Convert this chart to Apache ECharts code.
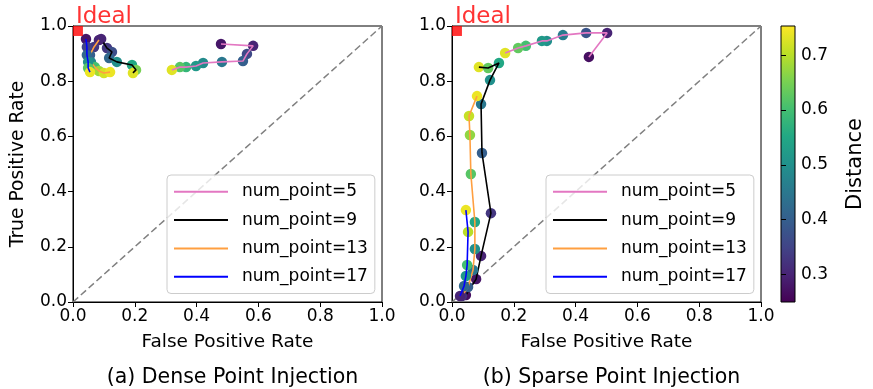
<!DOCTYPE html>
<html><head><meta charset="utf-8">
<script src="https://cdn.jsdelivr.net/npm/echarts@6/dist/echarts.min.js"></script>
<style>html,body{margin:0;padding:0;background:#fff}#c{width:873px;height:389px}</style>
</head><body><div id="c"></div>
<script>
// ---- data: each point is [FPR, TPR, Distance] ----
const numPoints = [5, 9, 13, 17];
const lineColors = ['#e377c2', '#000000', '#ff9f40', '#0000ff'];
const denseP5  = [[0.479,0.935,0.28],[0.583,0.928,0.30],[0.563,0.899,0.36],[0.550,0.873,0.40],[0.482,0.870,0.45],[0.421,0.866,0.49],[0.398,0.855,0.52],[0.366,0.851,0.58],[0.346,0.851,0.62],[0.320,0.841,0.73]];
const denseP9  = [[0.091,0.953,0.30],[0.110,0.920,0.33],[0.126,0.906,0.37],[0.117,0.884,0.42],[0.142,0.870,0.50],[0.191,0.859,0.55],[0.204,0.841,0.65],[0.194,0.830,0.73]];
const denseP13 = [[0.084,0.949,0.30],[0.068,0.924,0.33],[0.055,0.895,0.40],[0.058,0.870,0.48],[0.071,0.851,0.60],[0.084,0.837,0.68],[0.100,0.830,0.72],[0.120,0.833,0.74]];
const denseP17 = [[0.042,0.953,0.28],[0.045,0.924,0.35],[0.045,0.895,0.42],[0.049,0.870,0.50],[0.049,0.848,0.62],[0.055,0.833,0.74]];
const sparseP5  = [[0.443,0.888,0.27],[0.502,0.975,0.30],[0.434,0.975,0.38],[0.359,0.967,0.46],[0.307,0.946,0.50],[0.291,0.946,0.52],[0.239,0.928,0.60],[0.214,0.920,0.63],[0.172,0.902,0.73]];
const sparseP9  = [[0.087,0.851,0.73],[0.117,0.848,0.63],[0.152,0.866,0.55],[0.123,0.804,0.50],[0.094,0.717,0.45],[0.097,0.540,0.40],[0.126,0.322,0.33],[0.094,0.167,0.30],[0.078,0.083,0.28],[0.045,0.025,0.27]];
const sparseP13 = [[0.081,0.746,0.74],[0.055,0.674,0.71],[0.058,0.605,0.67],[0.061,0.464,0.62],[0.074,0.290,0.55],[0.074,0.192,0.50],[0.068,0.116,0.45],[0.052,0.054,0.40],[0.032,0.022,0.32]];
const sparseP17 = [[0.045,0.333,0.74],[0.052,0.254,0.70],[0.049,0.134,0.60],[0.045,0.094,0.52],[0.039,0.058,0.42],[0.026,0.022,0.30]];
const diagonal = [[0,0],[1,1]];
const idealPoint = [[0.016,0.982]];
const cbTicks = [0.3, 0.4, 0.5, 0.6, 0.7];
const cbMin = 0.25, cbMax = 0.753;
const panelTitles = ['(a) Dense Point Injection', '(b) Sparse Point Injection'];
const viridis = ['#440154','#482475','#414487','#355f8d','#2a788e','#21918c','#22a884','#44bf70','#7ad151','#bddf26','#fde725'];

const FONT = 'DejaVu Sans';
const panels = [[denseP5, denseP9, denseP13, denseP17], [sparseP5, sparseP9, sparseP13, sparseP17]];
const gridLefts = [73, 452];
const W = 309, TOP = 26, H = 276;

const grids = [], xAxes = [], yAxes = [], series = [], scatterIdx = [], legends = [], titles = [];
gridLefts.forEach((gl, p) => {
  grids.push({left: gl, top: TOP, width: W, height: H, show: true, borderColor: '#000', borderWidth: 1, backgroundColor: '#fff'});
  xAxes.push({gridIndex: p, type: 'value', min: 0, max: 1, interval: 0.2,
    name: 'False Positive Rate', nameLocation: 'middle', nameGap: 31,
    nameTextStyle: {fontFamily: FONT, fontSize: 18.5, color: '#000'},
    axisLine: {show: true, lineStyle: {color: '#000', width: 1}},
    axisTick: {show: true, inside: false, length: 5, lineStyle: {color: '#000'}},
    axisLabel: {fontFamily: FONT, fontSize: 17, color: '#000', margin: 6, formatter: v => v.toFixed(1)},
    splitLine: {show: false}});
  yAxes.push({gridIndex: p, type: 'value', min: 0, max: 1, interval: 0.2,
    name: p === 0 ? 'True Positive Rate' : '', nameLocation: 'middle', nameGap: 45,
    nameTextStyle: {fontFamily: FONT, fontSize: 18.7, color: '#000'},
    axisLine: {show: true, lineStyle: {color: '#000', width: 1}},
    axisTick: {show: true, inside: false, length: 5, lineStyle: {color: '#000'}},
    axisLabel: {fontFamily: FONT, fontSize: 17, color: '#000', margin: 6, formatter: v => v.toFixed(1)},
    splitLine: {show: false}});
  series.push({type: 'line', xAxisIndex: p, yAxisIndex: p, data: diagonal, showSymbol: false, silent: true,
    lineStyle: {color: '#808080', width: 1.5, type: [7, 3.5]}, z: 2});
  panels[p].forEach((arr, k) => {
    scatterIdx.push(series.length);
    series.push({type: 'scatter', xAxisIndex: p, yAxisIndex: p, data: arr, symbolSize: 10.5,
      itemStyle: {opacity: 1}, z: 3 + k * 2});
    series.push({type: 'line', name: 'num_point=' + numPoints[k], xAxisIndex: p, yAxisIndex: p,
      data: arr.map(d => [d[0], d[1]]), showSymbol: false, color: lineColors[k],
      lineStyle: {color: lineColors[k], width: 1.6}, z: 4 + k * 2});
  });
  series.push({type: 'scatter', xAxisIndex: p, yAxisIndex: p, data: idealPoint, symbol: 'rect', symbolSize: 10,
    itemStyle: {color: '#ff0000'}, z: 20,
    label: {show: true, formatter: 'Ideal', color: '#ff0000', fontFamily: FONT, fontSize: 23,
      position: [3, -8.5], align: 'left', verticalAlign: 'middle'}});
  legends.push({left: gl + 94, top: 175, orient: 'vertical', itemWidth: 54, itemHeight: 2, itemGap: 8.3,
    icon: 'rect', padding: [6.8, 7, 6.8, 7], borderColor: '#cccccc', borderWidth: 1, borderRadius: 4,
    backgroundColor: 'rgba(255,255,255,0.8)',
    textStyle: {fontFamily: FONT, fontSize: 17, lineHeight: 20, color: '#000', padding: [0, 0, 0, 9]},
    data: numPoints.map(n => 'num_point=' + n)});
  titles.push({text: panelTitles[p], left: gl + W / 2, top: 362, textAlign: 'center',
    textStyle: {fontFamily: FONT, fontSize: 20.5, fontWeight: 'normal', color: '#000'}});
});

// colorbar grid
grids.push({left: 781, top: TOP, width: 14, height: H, show: true, borderColor: '#000', borderWidth: 1,
  backgroundColor: {type: 'linear', x: 0, y: 0, x2: 0, y2: 1,
    colorStops: viridis.slice().reverse().map((c, i, a) => ({offset: i / (a.length - 1), color: c}))}});
xAxes.push({gridIndex: 2, type: 'value', show: false, min: 0, max: 1});
yAxes.push({gridIndex: 2, type: 'value', position: 'right', min: cbMin, max: cbMax,
  name: 'Distance', nameLocation: 'middle', nameGap: 50, nameRotate: 90,
  nameTextStyle: {fontFamily: FONT, fontSize: 21, color: '#000'},
  axisLine: {show: false},
  axisTick: {show: true, inside: false, length: 5, customValues: cbTicks, lineStyle: {color: '#000'}},
  axisLabel: {fontFamily: FONT, fontSize: 17, color: '#000', margin: 6, customValues: cbTicks, formatter: v => v.toFixed(1)},
  splitLine: {show: false}});

const chart = echarts.init(document.getElementById('c'), null, {renderer: 'canvas'});
chart.setOption({
  animation: false,
  backgroundColor: '#fff',
  title: titles,
  legend: legends,
  grid: grids,
  xAxis: xAxes,
  yAxis: yAxes,
  visualMap: {type: 'continuous', show: false, min: cbMin, max: cbMax, dimension: 2,
    seriesIndex: scatterIdx, inRange: {color: viridis}},
  series: series
});
</script></body></html>
